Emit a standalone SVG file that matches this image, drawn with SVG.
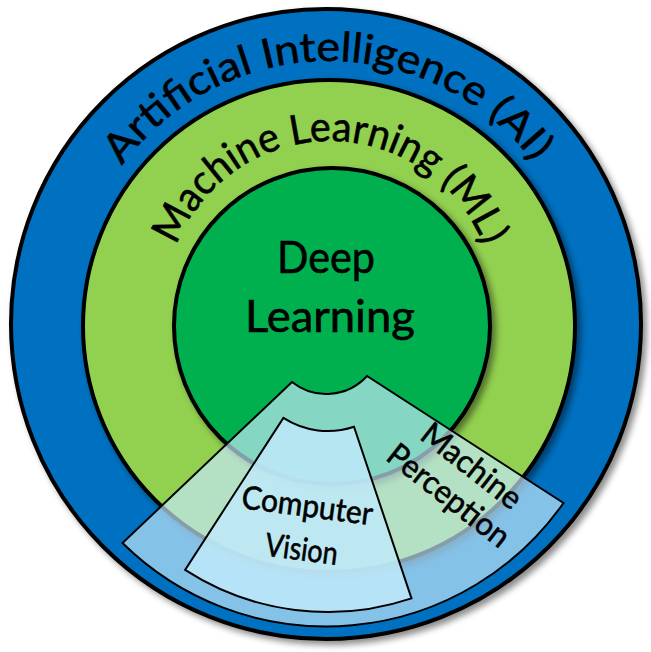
<svg xmlns="http://www.w3.org/2000/svg" width="651" height="652" viewBox="0 0 651 652">
<style>
.ring{stroke:#000;stroke-width:4;filter:url(#sh)}
.lbl{font-family:Lato,"Open Sans","Liberation Sans",sans-serif;fill:#000;stroke:#000;stroke-width:0.6}
.sector{stroke:#000;stroke-width:2;stroke-linejoin:miter}
</style>
<defs>
<filter id="sh" x="-10%" y="-10%" width="125%" height="125%">
<feDropShadow dx="4" dy="4" stdDeviation="3" flood-color="#000" flood-opacity="0.45"/>
</filter>
<path id="aiArc" d="M 72,318 A 257,257 0 0 1 586,318"/>
<path id="mlArc" d="M 165,306 A 165,165 0 0 1 495,306"/>
</defs>
<rect width="651" height="652" fill="#fff"/>
<g id="ai">
<circle class="ring" cx="326" cy="324" r="315" fill="#0070C0"/>
<text class="lbl" font-size="41"><textPath href="#aiArc" startOffset="401.5" text-anchor="middle" textLength="477" lengthAdjust="spacingAndGlyphs">Artificial Intelligence (AI)</textPath></text>
</g>
<g id="ml">
<circle class="ring" cx="329" cy="326" r="246" fill="#92D050"/>
<text class="lbl" font-size="41"><textPath href="#mlArc" startOffset="259.2" text-anchor="middle" textLength="395" lengthAdjust="spacingAndGlyphs">Machine Learning (ML)</textPath></text>
</g>
<g id="dl">
<circle class="ring" cx="332" cy="326" r="158" fill="#00B050"/>
<text class="lbl" font-size="44" x="326" y="273" text-anchor="middle" textLength="98" lengthAdjust="spacingAndGlyphs">Deep</text>
<text class="lbl" font-size="44" x="330" y="332" text-anchor="middle" textLength="170" lengthAdjust="spacingAndGlyphs">Learning</text>
</g>
<g id="mp">
<path class="sector" d="M 292,382 L 122.5,543 A 290,290 0 0 0 563.5,503 L 367,376 A 55,55 0 0 1 292,382 Z" fill="#C4E9FB" fill-opacity="0.68"/>
<g transform="translate(453.5,489.3) rotate(38)">
<text class="lbl" font-size="32" x="0" y="-18.7" text-anchor="middle" textLength="118" lengthAdjust="spacingAndGlyphs">Machine</text>
<text class="lbl" font-size="32" x="0" y="18.7" text-anchor="middle" textLength="146" lengthAdjust="spacingAndGlyphs">Perception</text>
</g>
</g>
<g id="cv">
<path class="sector" d="M 283.4,417.9 L 185.1,569.9 A 263,263 0 0 0 411.5,598.4 L 354,426.8 A 82,82 0 0 1 283.4,417.9 Z" fill="#BEE9F9" fill-opacity="0.85"/>
<g transform="translate(303,538.4) rotate(7.5)">
<text class="lbl" font-size="32" x="0" y="-22" text-anchor="middle" textLength="132" lengthAdjust="spacingAndGlyphs">Computer</text>
<text class="lbl" font-size="32" x="0" y="22" text-anchor="middle" textLength="73" lengthAdjust="spacingAndGlyphs">Vision</text>
</g>
</g>
<g id="connectors"/>
</svg>
